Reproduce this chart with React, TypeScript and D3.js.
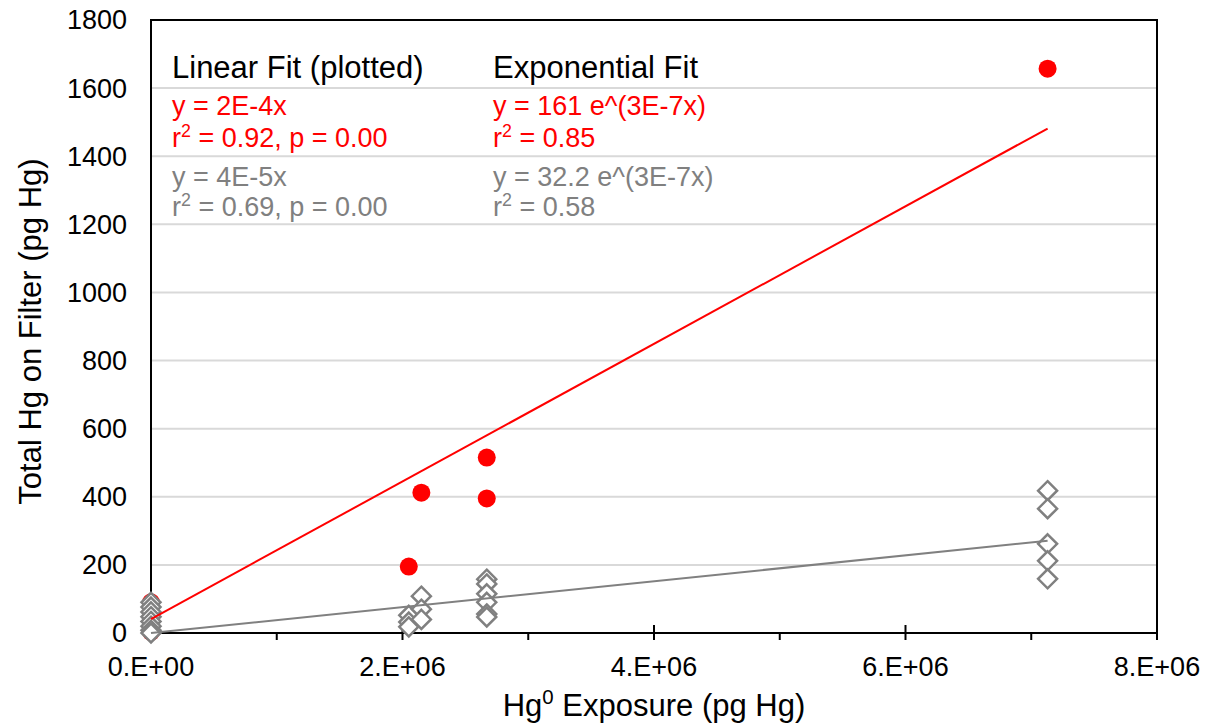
import * as d3 from 'd3'

// red circles: total Hg on filter
const redX = [0, 0, 0, 2.05e6, 2.15e6, 2.67e6, 2.67e6, 7.13e6]
const redY = [90, 45, 3, 195, 412, 515, 395, 1657]

// gray diamonds
const grayX = [
  0, 0, 0, 0, 0, 0, 0, 0,
  2.05e6, 2.05e6, 2.05e6,
  2.15e6, 2.15e6, 2.15e6,
  2.67e6, 2.67e6, 2.67e6, 2.67e6, 2.67e6, 2.67e6,
  7.13e6, 7.13e6, 7.13e6, 7.13e6, 7.13e6,
]
const grayY = [
  90, 76, 62, 48, 34, 20, 8, 0,
  52, 32, 18,
  108, 70, 40,
  158, 144, 115, 90, 56, 47,
  418, 365, 262, 212, 159,
]

// fitted lines (intercept, slope) over the data range
const fitRange = [0, 7.13e6]
const redFit = [41, 2.02e-4]
const grayFit = [0, 3.8e-5]

const yTicks = [0, 200, 400, 600, 800, 1000, 1200, 1400, 1600, 1800]
const xMajor = [0, 2e6, 4e6, 6e6, 8e6]
const xMinor = [1e6, 3e6, 5e6, 7e6]
const xTickLabels = ['0.E+00', '2.E+06', '4.E+06', '6.E+06', '8.E+06']

const RED = '#ff0000'
const GRAY = '#808080'
const GRID = '#d9d9d9'
const FONT = '"Liberation Sans", Arial, sans-serif'

export default function App() {
  const width = 1214
  const height = 727
  const left = 151
  const right = 1157
  const top = 20
  const bottom = 633

  const x = d3.scaleLinear().domain([0, 8e6]).range([left, right])
  const y = d3.scaleLinear().domain([0, 1800]).range([bottom, top])

  const fitLine = (f: number[]) =>
    d3.line<number>().x((d) => x(d)).y((d) => y(f[0] + f[1] * d))(fitRange) || ''

  const diamond = d3.symbol().type(d3.symbolDiamond2).size(230)()

  const sup = (base: string, s: string, rest: string, fs: number) => (
    <>
      {base}
      <tspan dy={-fs * 0.38} fontSize={fs * 0.66}>{s}</tspan>
      <tspan dy={fs * 0.38}>{rest}</tspan>
    </>
  )

  return (
    <svg width={width} height={height} style={{ position: 'absolute', left: 0, top: 0 }}
      fontFamily={FONT}>
      <rect width={width} height={height} fill="#fff" />
      {yTicks.filter((t) => t > 0 && t < 1800).map((t) => (
        <line key={t} x1={left} x2={right} y1={y(t)} y2={y(t)} stroke={GRID} strokeWidth={2} />
      ))}
      <rect x={left} y={top} width={right - left} height={bottom - top}
        fill="none" stroke="#000" strokeWidth={2} />
      {xMajor.map((t) => (
        <line key={t} x1={x(t)} x2={x(t)} y1={bottom - 8} y2={bottom + 7} stroke="#000" strokeWidth={2} />
      ))}
      {xMinor.map((t) => (
        <line key={t} x1={x(t)} x2={x(t)} y1={bottom} y2={bottom + 7} stroke="#000" strokeWidth={2} />
      ))}
      {yTicks.map((t) => (
        <text key={t} x={127} y={y(t)} dy="0.35em" textAnchor="end" fontSize={27} fill="#000">{t}</text>
      ))}
      {xMajor.map((t, i) => (
        <text key={t} x={x(t)} y={676} textAnchor="middle" fontSize={27} fill="#000">{xTickLabels[i]}</text>
      ))}

      {redX.map((d, i) => (
        <circle key={i} cx={x(d)} cy={y(redY[i])} r={9} fill={RED} />
      ))}
      {grayX.map((d, i) => (
        <path key={i} d={diamond} transform={`translate(${x(d)},${y(grayY[i])})`}
          fill="#fff" stroke={GRAY} strokeWidth={2.5} />
      ))}
      <path d={fitLine(redFit)} stroke={RED} strokeWidth={2} fill="none" />
      <path d={fitLine(grayFit)} stroke={GRAY} strokeWidth={2} fill="none" />

      <g fontSize={31}>
        <text x={172} y={78} fill="#000">Linear Fit (plotted)</text>
        <text x={493} y={78} fill="#000">Exponential Fit</text>
      </g>
      <g fontSize={27}>
        <text x={172} y={115} fill={RED}>y = 2E-4x</text>
        <text x={172} y={147} fill={RED}>{sup('r', '2', ' = 0.92, p = 0.00', 27)}</text>
        <text x={172} y={186} fill={GRAY}>y = 4E-5x</text>
        <text x={172} y={216} fill={GRAY}>{sup('r', '2', ' = 0.69, p = 0.00', 27)}</text>
        <text x={493} y={115} fill={RED}>y = 161 e^(3E-7x)</text>
        <text x={493} y={147} fill={RED}>{sup('r', '2', ' = 0.85', 27)}</text>
        <text x={493} y={186} fill={GRAY}>y = 32.2 e^(3E-7x)</text>
        <text x={493} y={216} fill={GRAY}>{sup('r', '2', ' = 0.58', 27)}</text>
      </g>

      <text x={654} y={716} textAnchor="middle" fontSize={31} fill="#000">
        {sup('Hg', '0', ' Exposure (pg Hg)', 31)}
      </text>
      <text transform={`translate(41, ${(top + bottom) / 2 + 5}) rotate(-90)`} textAnchor="middle"
        fontSize={31} fill="#000">Total Hg on Filter (pg Hg)</text>
    </svg>
  )
}
